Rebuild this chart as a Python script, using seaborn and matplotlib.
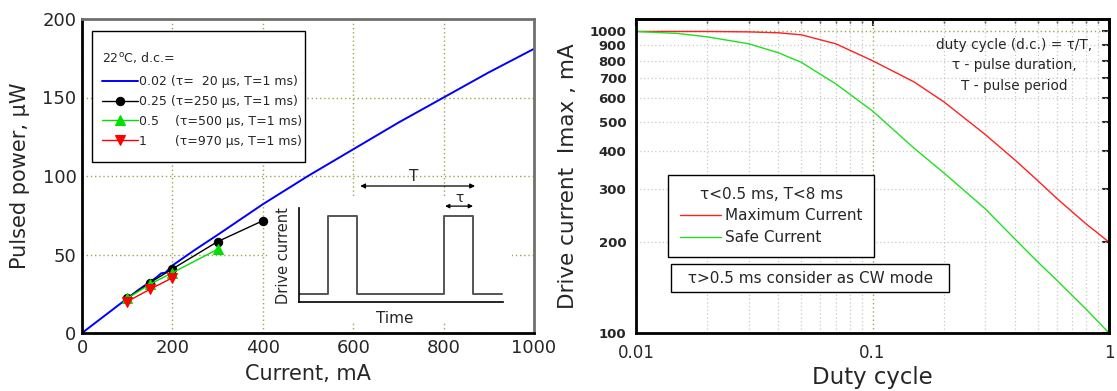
import numpy as np
import pandas as pd
import matplotlib
matplotlib.use("Agg")
import matplotlib.pyplot as plt
from matplotlib.ticker import FixedLocator, NullFormatter, FixedFormatter
from matplotlib.patches import Rectangle
import seaborn as sns

# ---------------- data: left panel ----------------
cur_002 = [0, 50, 100, 125, 150, 165, 175, 185, 200, 250, 300, 400, 500, 600, 700, 800, 900, 1000]
pow_002 = [0, 11, 22, 27.5, 32.5, 35.5, 38, 38.5, 43, 53, 62.5, 82, 100, 117, 134, 150, 166, 181]
cur_025 = [100, 150, 200, 300, 400]
pow_025 = [22, 32, 40.8, 58.2, 71.5]
cur_05 = [100, 150, 200, 300]
pow_05 = [22, 31, 38.4, 53.3]
cur_1 = [100, 150, 200]
pow_1 = [20, 27.8, 35.2]
legend_title = "22$^{\\rm o}$C, d.c.="
legend_labels = ["0.02 (τ=  20 μs, T=1 ms)",
                 "0.25 (τ=250 μs, T=1 ms)",
                 "0.5    (τ=500 μs, T=1 ms)",
                 "1       (τ=970 μs, T=1 ms)"]

# inset schematic (pulse train)
signal_t = [0, 0.142, 0.142, 0.284, 0.284, 0.711, 0.711, 0.853, 0.853, 0.995]
signal_level = [0.085, 0.085, 0.915, 0.915, 0.085, 0.085, 0.915, 0.915, 0.085, 0.085]

# ---------------- data: right panel ----------------
dc_max = [0.01, 0.02, 0.03, 0.04, 0.05, 0.07, 0.1, 0.15, 0.2, 0.3, 0.4, 0.5, 0.6, 0.7, 0.8, 0.9, 1.0]
imax_max = [1000, 1000, 997, 990, 975, 910, 800, 680, 585, 455, 375, 320, 280, 252, 230, 214, 200]
dc_safe = [0.01, 0.015, 0.02, 0.03, 0.04, 0.05, 0.07, 0.1, 0.15, 0.2, 0.3, 0.4, 0.5, 0.6, 0.7, 0.8, 0.9, 1.0]
imax_safe = [1000, 985, 960, 910, 850, 790, 670, 545, 410, 340, 258, 205, 172, 150, 133, 120, 109, 100]
y_ticks_right = [100, 200, 300, 400, 500, 600, 700, 800, 900, 1000]
x_ticks_right = [0.01, 0.1, 1]
x_ticklabels_right = ["0.01", "0.1", "1"]

sns.set_style("white")
plt.rcParams['font.family'] = ['DejaVu Sans']
plt.rcParams['mathtext.default'] = 'regular'

W, H = 1117, 391
fig = plt.figure(figsize=(W / 100, H / 100), dpi=100)

def box(x0, x1, y0, y1):
    return [x0 / W, 1 - y1 / H, (x1 - x0) / W, (y1 - y0) / H]

olive = "#a3a34a"

# =============== LEFT ===============
ax = fig.add_axes(box(82, 534, 19, 333))
ax.set_axisbelow(True)
df = pd.DataFrame({"x": cur_002, "y": pow_002})
sns.lineplot(data=df, x="x", y="y", ax=ax, color="#0000ff", lw=1.4, label=legend_labels[0])
sns.lineplot(x=cur_025, y=pow_025, ax=ax, color="black", lw=1.0, marker="o", ms=6,
             mec="black", label=legend_labels[1])
sns.lineplot(x=cur_05, y=pow_05, ax=ax, color="#00e000", lw=1.0, marker="^", ms=7,
             mec="#00e000", label=legend_labels[2])
sns.lineplot(x=cur_1, y=pow_1, ax=ax, color="#ff0000", lw=1.0, marker="v", ms=7,
             mec="#ff0000", label=legend_labels[3])
ax.set_xlim(0, 1000)
ax.set_ylim(0, 200)
ax.set_xticks([0, 200, 400, 600, 800, 1000])
ax.set_yticks([0, 50, 100, 150, 200])
ax.xaxis.set_minor_locator(FixedLocator(np.arange(0, 1001, 100)))
ax.yaxis.set_minor_locator(FixedLocator(np.arange(0, 201, 10)))
ax.grid(True, which="major", color=olive, ls=(0, (1, 2)), lw=1.0)
ax.tick_params(which="major", direction="in", length=5, width=1.5, labelsize=13, pad=4)
ax.tick_params(which="minor", direction="in", length=3, width=1.0)
for s in ["left", "bottom"]:
    ax.spines[s].set_color("black"); ax.spines[s].set_linewidth(2)
for s in ["top", "right"]:
    ax.spines[s].set_color("#707070"); ax.spines[s].set_linewidth(2)
ax.set_xlabel("Current, mA", fontsize=15)
ax.set_ylabel("Pulsed power, μW", fontsize=15)
ax.xaxis.set_label_coords(0.5, -0.10)
ax.yaxis.set_label_coords(-0.115, 0.5)

# white panel behind the inset (hides the grid only) and legend frame
ax.add_patch(Rectangle((0.4115, 0.035), 0.5395, 0.398, transform=ax.transAxes,
                       facecolor="white", edgecolor="none", zorder=1))
ax.add_patch(Rectangle((0.022, 0.545), 0.471, 0.417, transform=ax.transAxes,
                       facecolor="white", edgecolor="black", lw=1.0, zorder=3))
leg = ax.legend(title=legend_title, loc="upper left", bbox_to_anchor=(0.044, 0.90),
                borderaxespad=0, borderpad=0, fontsize=9, title_fontsize=9, frameon=False,
                handlelength=2.9, handletextpad=0.1, labelspacing=0.55, alignment="left")
leg.set_zorder(4)
leg._legend_box.sep = 7

# inset schematic
ins = fig.add_axes(box(299, 503, 208, 302))
ins.set_facecolor("none")
sns.lineplot(x=signal_t, y=signal_level, ax=ins, color="#555555", lw=1.4,
             sort=False, estimator=None)
ins.set_xlim(0, 1)
ins.set_ylim(0, 1)
ins.set_xlabel("")
ins.set_ylabel("")
for s in ["top", "right"]:
    ins.spines[s].set_visible(False)
for s in ["left", "bottom"]:
    ins.spines[s].set_color("black"); ins.spines[s].set_linewidth(1.2)
ins.set_xticks(np.linspace(0, 1, 11))
ins.set_yticks(np.linspace(0, 1, 11))
ins.tick_params(direction="in", length=2, width=0.8, labelbottom=False, labelleft=False,
                colors="#444444")
ins.text(-0.075, 0.49, "Drive current", rotation=90, ha="center", va="center",
         fontsize=10.5, transform=ins.transAxes)
ins.text(0.47, -0.18, "Time", ha="center", va="center", fontsize=11,
         transform=ins.transAxes)
ins.annotate("", xy=(0.30, 1.234), xytext=(0.863, 1.234), xycoords=ins.transAxes,
             arrowprops=dict(arrowstyle="<|-|>", color="black", lw=0.9, mutation_scale=7,
                             shrinkA=0, shrinkB=0), annotation_clip=False)
ins.text(0.56, 1.34, "T", ha="center", va="center", fontsize=11, transform=ins.transAxes)
ins.annotate("", xy=(0.716, 1.02), xytext=(0.853, 1.02), xycoords=ins.transAxes,
             arrowprops=dict(arrowstyle="<|-|>", color="black", lw=0.9, mutation_scale=6,
                             shrinkA=0, shrinkB=0), annotation_clip=False)
ins.text(0.785, 1.11, "τ", ha="center", va="center", fontsize=10, transform=ins.transAxes)

# =============== RIGHT ===============
ax2 = fig.add_axes(box(636, 1109, 19, 333))
sns.lineplot(x=dc_max, y=imax_max, ax=ax2, color="#ff2020", lw=1.0, label="Maximum Current")
sns.lineplot(x=dc_safe, y=imax_safe, ax=ax2, color="#20e020", lw=1.0, label="Safe Current")
ax2.set_xscale("log")
ax2.set_yscale("log")
ax2.set_xlim(0.01, 1)
ax2.set_ylim(100, 1100)
ax2.xaxis.set_major_locator(FixedLocator(x_ticks_right))
ax2.xaxis.set_major_formatter(FixedFormatter(x_ticklabels_right))
minor_x = [m * d for d in (0.01, 0.1) for m in range(2, 10)]
ax2.xaxis.set_minor_locator(FixedLocator(minor_x))
ax2.xaxis.set_minor_formatter(NullFormatter())
ax2.yaxis.set_major_locator(FixedLocator([y_ticks_right[-1]]))
ax2.yaxis.set_major_formatter(FixedFormatter([str(y_ticks_right[-1])]))
ax2.yaxis.set_minor_locator(FixedLocator(y_ticks_right[:-1]))
ax2.yaxis.set_minor_formatter(FixedFormatter([str(v) for v in y_ticks_right[:-1]]))
ax2.grid(True, which="major", color=olive, ls=(0, (1, 2)), lw=1.0)
ax2.grid(True, which="minor", color="#c8c8c8", ls=(0, (1, 2)), lw=0.9)
ax2.tick_params(axis="x", which="major", direction="out", length=5, width=1.5,
                labelsize=12, pad=3)
ax2.tick_params(axis="x", which="minor", direction="out", length=3, width=1.0)
ax2.tick_params(axis="y", which="both", direction="out", length=5, width=1.5,
                labelsize=9.5, pad=2)
for lab in ax2.get_yticklabels(which="both"):
    lab.set_fontweight("semibold")
for s in ax2.spines.values():
    s.set_color("black"); s.set_linewidth(2)

secx = ax2.secondary_xaxis("top")
secx.xaxis.set_major_locator(FixedLocator(x_ticks_right))
secx.xaxis.set_minor_locator(FixedLocator(minor_x))
secx.tick_params(which="major", direction="in", length=5, width=1.5, labeltop=False)
secx.tick_params(which="minor", direction="in", length=3, width=1.0)
secx.spines["top"].set_linewidth(2)
secy = ax2.secondary_yaxis("right")
secy.yaxis.set_major_locator(FixedLocator(y_ticks_right))
secy.yaxis.set_minor_locator(FixedLocator([]))
secy.tick_params(which="major", direction="in", length=5, width=1.5, labelright=False)
secy.spines["right"].set_linewidth(2)

ax2.set_xlabel("Duty cycle", fontsize=16.5)
ax2.set_ylabel("Drive current  Imax , mA", fontsize=15.5)
ax2.xaxis.set_label_coords(0.5, -0.105)
ax2.yaxis.set_label_coords(-0.123, 0.5)

leg2 = ax2.legend(title="τ<0.5 ms, T<8 ms", loc="upper left", bbox_to_anchor=(0.068, 0.503),
                  borderaxespad=0, fontsize=11, title_fontsize=11, frameon=True,
                  fancybox=False, framealpha=1, edgecolor="black", handlelength=2.7,
                  handletextpad=0.3, labelspacing=0.45, borderpad=0.75)
leg2.get_frame().set_linewidth(1.0)

ax2.text(0.368, 0.175, "  τ>0.5 ms consider as CW mode  ", transform=ax2.transAxes,
         ha="center", va="center", fontsize=11,
         bbox=dict(boxstyle="square,pad=0.45", facecolor="white", edgecolor="black", lw=1.0))
ax2.text(0.80, 0.94, "duty cycle (d.c.) = τ/T,\nτ - pulse duration,\nT - pulse period",
         transform=ax2.transAxes, ha="center", va="top", multialignment="center",
         fontsize=9.8, linespacing=1.6)

fig.savefig("out.png", dpi=100)
